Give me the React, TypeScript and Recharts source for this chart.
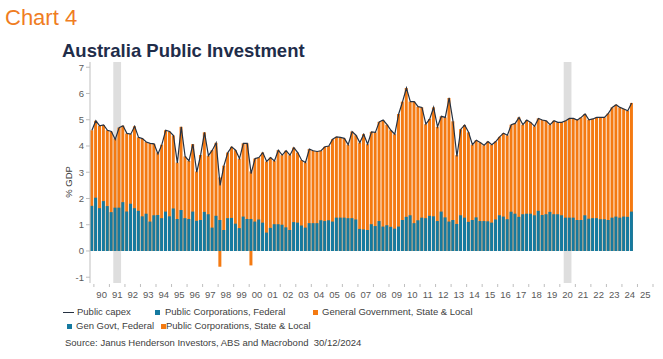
import React from 'react';
import { ComposedChart, Bar, Line, XAxis, YAxis, ReferenceArea } from 'recharts';

// quarters 1989Q4 .. 2025Q4 (axis runs a little past the last data point)
const quarters: string[] = [];
for (let i = 0; i < 145; i++) {
  const year = 1989 + Math.floor((i + 3) / 4);
  const q = ((i + 3) % 4) + 1;
  quarters.push(`${year}Q${q}`);
}

const yearTicks = quarters.filter((q) => q.endsWith('Q1'));
const yearLabels = [
  '90', '91', '92', '93', '94', '95', '96', '97', '98', '99', '00', '01',
  '02', '03', '04', '05', '06', '07', '08', '09', '10', '11', '12', '13',
  '14', '15', '16', '17', '18', '19', '20', '21', '22', '23', '24', '25',
];

// top of the bars (% GDP), 1989Q4 .. 2024Q3
const barTop = [
  4.6, 4.96, 4.77, 4.8, 4.6, 4.55, 4.29, 4.7, 4.77, 4.48,
  4.45, 4.75, 4.33, 4.28, 4.15, 4.1, 4.08, 3.75, 4.05, 4.6,
  4.55, 4.4, 3.37, 4.73, 3.6, 3.43, 4.07, 3.03, 3.66, 4.52,
  3.63, 3.84, 4.12, 2.8, 3.25, 3.75, 3.97, 3.84, 3.52, 4.1,
  4.1, 3.03, 3.52, 3.56, 3.75, 3.41, 3.56, 3.43, 3.84, 3.65,
  3.82, 3.65, 3.94, 3.75, 3.46, 3.37, 3.88, 3.82, 3.79, 3.82,
  3.97, 4.0, 4.26, 4.35, 4.33, 4.29, 4.05, 4.55, 4.41, 4.13,
  4.45, 4.07, 4.54, 4.52, 4.92, 4.99, 4.81, 4.6, 4.45, 5.22,
  5.69, 6.21, 5.69, 5.69, 5.5, 5.47, 4.83, 5.03, 5.47, 4.73,
  5.13, 5.09, 5.83, 4.94, 3.65, 4.64, 4.8, 4.52, 4.05, 4.22,
  4.13, 4.03, 4.17, 4.05, 4.17, 4.35, 4.49, 4.41, 4.81, 4.86,
  5.09, 4.81, 4.99, 4.9, 4.75, 5.05, 4.99, 4.96, 4.81, 4.96,
  4.9, 4.9, 4.96, 5.05, 5.05, 4.99, 5.09, 5.22, 5.0, 5.03,
  5.09, 5.09, 5.09, 5.24, 5.47, 5.57, 5.47, 5.41, 5.34, 5.64,
];

// federal part (public corporations + general government)
const federal = [
  1.72, 2.03, 1.63, 1.9, 1.71, 1.48, 1.65, 1.65, 1.86, 1.5,
  1.8, 1.63, 1.53, 1.32, 1.42, 1.12, 1.36, 1.37, 1.25, 1.5,
  1.32, 1.62, 1.22, 1.56, 1.25, 1.22, 1.5, 1.15, 1.18, 1.49,
  1.4, 0.89, 1.34, 1.18, 0.8, 1.25, 1.26, 1.04, 0.87, 1.31,
  1.22, 1.22, 1.12, 1.2, 1.08, 0.7, 0.88, 1.02, 1.02, 1.0,
  0.9, 0.8, 1.1, 1.08, 0.97, 0.89, 1.06, 1.06, 1.06, 1.17,
  1.14, 1.17, 1.12, 1.27, 1.27, 1.27, 1.25, 1.25, 1.2, 0.84,
  0.82, 0.8, 1.02, 0.95, 1.14, 0.93, 0.98, 0.92, 0.85, 0.93,
  1.18, 1.3, 1.36, 1.06, 1.17, 1.27, 1.25, 1.34, 1.32, 1.14,
  1.5, 1.28, 1.12, 1.18, 1.03, 1.36, 1.27, 1.11, 1.18, 1.28,
  1.14, 1.14, 1.13, 1.08, 1.2, 1.36, 1.31, 1.21, 1.49, 1.42,
  1.3, 1.4, 1.42, 1.42, 1.36, 1.53, 1.37, 1.4, 1.49, 1.4,
  1.4, 1.36, 1.27, 1.27, 1.27, 1.18, 1.18, 1.36, 1.23, 1.25,
  1.25, 1.21, 1.21, 1.18, 1.27, 1.31, 1.27, 1.31, 1.3, 1.5,
];

// public capex line
const capex = [
  4.6, 4.96, 4.77, 4.8, 4.6, 4.55, 4.25, 4.7, 4.77, 4.48,
  4.45, 4.75, 4.33, 4.28, 4.15, 4.1, 4.08, 3.7, 4.05, 4.6,
  4.55, 4.4, 3.35, 4.73, 3.6, 3.43, 4.07, 3.0, 3.66, 4.52,
  3.63, 3.84, 4.12, 2.5, 3.25, 3.75, 3.97, 3.84, 3.52, 4.1,
  4.1, 2.95, 3.52, 3.56, 3.75, 3.41, 3.56, 3.43, 3.84, 3.65,
  3.82, 3.65, 3.94, 3.75, 3.46, 3.37, 3.88, 3.82, 3.79, 3.82,
  3.97, 4.0, 4.26, 4.35, 4.33, 4.29, 4.05, 4.55, 4.41, 4.13,
  4.45, 4.07, 4.54, 4.52, 4.92, 4.99, 4.81, 4.6, 4.45, 5.22,
  5.69, 6.21, 5.69, 5.69, 5.5, 5.47, 4.83, 5.03, 5.47, 4.73,
  5.13, 5.09, 5.83, 4.94, 3.6, 4.64, 4.8, 4.52, 4.05, 4.22,
  4.13, 4.03, 4.17, 4.05, 4.17, 4.35, 4.49, 4.41, 4.81, 4.86,
  5.09, 4.81, 4.99, 4.9, 4.75, 5.05, 4.99, 4.96, 4.81, 4.96,
  4.9, 4.9, 4.96, 5.05, 5.05, 4.99, 5.09, 5.22, 5.0, 5.03,
  5.09, 5.09, 5.09, 5.24, 5.47, 5.57, 5.47, 5.41, 5.34, 5.64,
];

// negative state & local public corporation quarters
const stateLocalNegative: [string, number][] = [
  ['1998Q1', -0.6],
  ['2000Q1', -0.55],
];

const recessions: [string, string][] = [
  ['1991Q2', '1991Q3'],
  ['2020Q2', '2020Q3'],
];

const yTicks = [-1, 0, 1, 2, 3, 4, 5, 6, 7];

const data = quarters.map((q, i) => {
  const neg = stateLocalNegative.find((n) => n[0] === q);
  return {
    q,
    top: i < barTop.length ? barTop[i] : null,
    federal: i < federal.length ? federal[i] : null,
    capex: i < capex.length ? capex[i] : null,
    neg: neg ? neg[1] : 0,
  };
});

const BLUE = '#157aa0';
const ORANGE = '#f47a12';
const LINE = '#263141';
const FONT = 'Arial, "Liberation Sans", sans-serif';

const PLOT_W = 563;
const BAND = PLOT_W / quarters.length;

const YearTick = (props: any) => {
  const { x, y, payload } = props;
  const idx = yearTicks.indexOf(payload.value);
  const x0 = x - BAND / 2;
  return (
    <g>
      <line x1={x0} x2={x0} y1={y + 1} y2={y + 4} stroke="#bfbfbf" />
      {idx === yearTicks.length - 1 && (
        <line x1={x0 + 4 * BAND} x2={x0 + 4 * BAND} y1={y + 1} y2={y + 4} stroke="#bfbfbf" />
      )}
      <text x={x0 + 2 * BAND} y={y + 14.5} textAnchor="middle" fontSize={9.5} fill="#595959" fontFamily={FONT}>
        {yearLabels[idx]}
      </text>
    </g>
  );
};

const txt = (left: number, top: number, s: string, extra: React.CSSProperties = {}) => (
  <div
    style={{
      position: 'absolute',
      left,
      top,
      fontSize: 9.5,
      lineHeight: '12px',
      color: '#404040',
      whiteSpace: 'nowrap',
      ...extra,
    }}
  >
    {s}
  </div>
);

const square = (left: number, top: number, color: string) => (
  <div style={{ position: 'absolute', left, top, width: 5, height: 5, background: color }} />
);

export default function App() {
  return (
    <div
      style={{
        position: 'absolute',
        left: 0,
        top: 0,
        width: 663,
        height: 359,
        background: '#fff',
        fontFamily: FONT,
        overflow: 'hidden',
      }}
    >
      <div style={{ position: 'absolute', left: 5, top: 7, fontSize: 22, lineHeight: '22px', color: '#ef7d22' }}>
        Chart 4
      </div>
      <div
        style={{
          position: 'absolute',
          left: 62,
          top: 41.5,
          fontSize: 18.5,
          lineHeight: '18.5px',
          fontWeight: 'bold',
          color: '#1f2d4a',
        }}
      >
        Australia Public Investment
      </div>

      <div style={{ position: 'absolute', left: 0, top: 0 }}>
        <ComposedChart
          width={663}
          height={305}
          data={data}
          margin={{ top: 62, right: 10, bottom: 2, left: 60 }}
          stackOffset="sign"
          barCategoryGap="6%"
        >
          <XAxis
            xAxisId="main"
            dataKey="q"
            ticks={yearTicks}
            interval={0}
            tick={<YearTick />}
            tickLine={false}
            axisLine={false}
            tickSize={0}
            tickMargin={0}
            height={20}
          />
          <XAxis xAxisId="over" dataKey="q" hide />
          <YAxis
            domain={[-1.22, 7.2]}
            ticks={yTicks}
            width={30}
            tickSize={4}
            tick={{ fontSize: 9.5, fill: '#595959', fontFamily: FONT }}
            tickLine={{ stroke: '#bfbfbf' }}
            axisLine={{ stroke: '#bfbfbf' }}
          />
          {recessions.map(([a, b]) => (
            <ReferenceArea
              key={a}
              xAxisId="main"
              x1={a}
              x2={b}
              fill="#dedede"
              fillOpacity={1}
              stroke="none"
            />
          ))}
          <Bar xAxisId="main" dataKey="top" stackId="sl" fill={ORANGE} isAnimationActive={false} />
          <Bar xAxisId="main" dataKey="neg" stackId="sl" fill={ORANGE} isAnimationActive={false} />
          <Bar xAxisId="over" dataKey="federal" fill={BLUE} isAnimationActive={false} />
          <Line
            xAxisId="main"
            type="linear"
            dataKey="capex"
            stroke={LINE}
            strokeWidth={1.2}
            dot={false}
            activeDot={false}
            isAnimationActive={false}
          />
        </ComposedChart>
      </div>

      <div
        style={{
          position: 'absolute',
          left: 68,
          top: 182,
          transform: 'translate(-50%, -50%) rotate(-90deg)',
          fontSize: 9.5,
          color: '#404040',
          whiteSpace: 'nowrap',
        }}
      >
        % GDP
      </div>

      {/* legend */}
      <div style={{ position: 'absolute', left: 63, top: 311.5, width: 11, height: 1.5, background: LINE }} />
      {txt(77, 306.3, 'Public capex')}
      {square(155, 310, BLUE)}
      {txt(165, 306.3, 'Public Corporations, Federal')}
      {square(313, 310, ORANGE)}
      {txt(322, 306.3, 'General Government, State & Local')}
      {square(67, 324, BLUE)}
      {txt(76, 320.3, 'Gen Govt, Federal')}
      {square(161, 324, ORANGE)}
      {txt(166, 320.3, 'Public Corporations, State & Local')}
      {txt(65, 337.3, 'Source: Janus Henderson Investors, ABS and Macrobond  30/12/2024', { whiteSpace: 'pre' })}
    </div>
  );
}
